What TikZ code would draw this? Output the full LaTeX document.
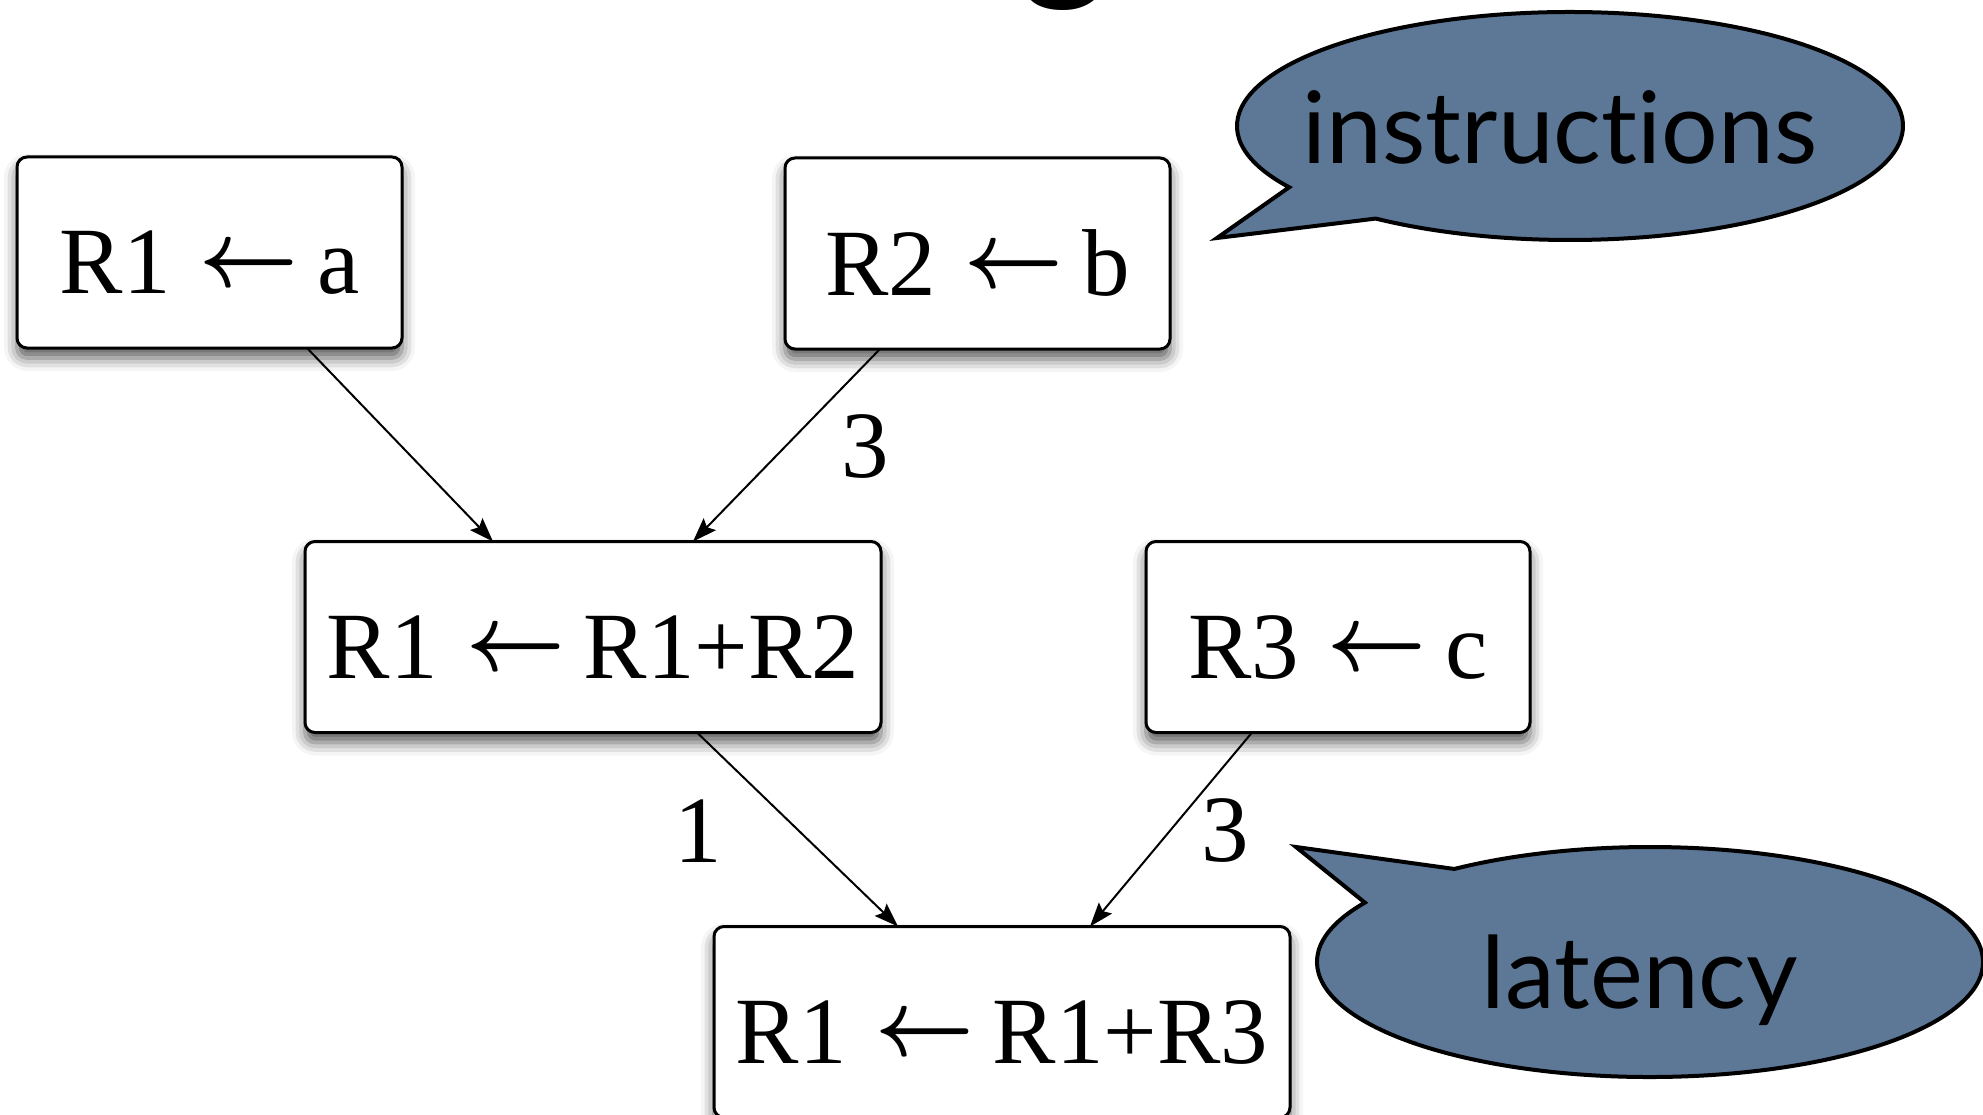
\documentclass[tikz,border=0pt]{standalone}
\usepackage{graphicx}
\usepackage{fontspec}
\setmainfont{Liberation Serif}
\newfontfamily\balloonfont{Lato}[Ligatures={NoCommon,NoRare}]
\usetikzlibrary{arrows.meta,calc,shadows.blur}

\definecolor{balloonblue}{RGB}{93,120,150}

% assignment arrow used in the instruction boxes
\newcommand{\assignarrow}{\hspace{0.05em}\raisebox{8pt}{\scalebox{8.6}[9.5]{\fontsize{10}{12}\selectfont\boldmath$\leftarrow$}}\hspace{0.2em}}

\tikzset{
  instr/.style={draw=black, line width=3pt, rounded corners=10pt, fill=white,
    inner sep=0pt, outer sep=0pt, minimum height=191pt,
    text height=83pt, text depth=0pt, font=\fontsize{95}{100}\selectfont,
    blur shadow={shadow xshift=0pt, shadow yshift=-10pt,
      shadow blur radius=13pt, shadow opacity=65}},
  dep/.style={line width=2pt, -{Stealth[length=24pt,width=17pt,inset=4pt]}},
  lat/.style={font=\fontsize{95}{100}\selectfont, inner sep=0pt},
  balloon/.style={draw=black, line width=4pt, fill=balloonblue, line join=miter},
  balloontext/.style={font=\balloonfont\fontsize{100}{110}\selectfont,
    inner sep=0pt, anchor=base}
}

\begin{document}
\begin{tikzpicture}[x=1pt, y=-1pt]
\useasboundingbox (0,0) rectangle (1983,1115);

% tail of the heading, mostly above the page
\node[font=\balloonfont\fontsize{170}{170}\selectfont, inner sep=0pt, anchor=base]
  (heading) at (1065,-20) {g};

% instructions
\node[instr, minimum width=385pt] (a)  at (209.5,252.5) {R1 \assignarrow a};
\node[instr, minimum width=385pt] (b)  at (977.5,253.5) {R2 \assignarrow b};
\node[instr, minimum width=576pt] (c)  at (593,637)     {R1 \assignarrow R1+R2};
\node[instr, minimum width=384pt] (d)  at (1338,637)    {R3 \assignarrow c};
\node[instr, minimum width=576pt] (e)  at (1002,1022)   {R1 \assignarrow R1+R3};

% dependences
\draw[dep] ([xshift=97.5pt]a.south) -- ([xshift=-100pt]c.north);
\draw[dep] ([xshift=-97.5pt]b.south) -- ([xshift=100pt]c.north);
\draw[dep] ([xshift=104pt]c.south) -- ([xshift=-104pt]e.north);
\draw[dep] ([xshift=-86pt]d.south) -- ([xshift=88pt]e.north);

% latencies
\node[lat] (lbc) at (865,447) {3};
\node[lat] (lce) at (698,831) {1};
\node[lat] (lde) at (1225,831) {3};

% speech balloons
\coordinate (ic) at (1570,126);
\coordinate (itip) at (1217,238);
\draw[balloon] (itip) -- ($(ic)+(147.5:333 and 114)$)
  arc[start angle=147.5, end angle=485.7, x radius=333, y radius=114] -- cycle;
\node[balloontext] (itext) at (1560,164) {instructions};

\coordinate (lc) at (1650,962);
\coordinate (ltip) at (1296,847);
\draw[balloon] (ltip) -- ($(lc)+(211.1:333 and 115)$)
  arc[start angle=211.1, end angle=-126, x radius=333, y radius=115] -- cycle;
\node[balloontext] (ltext) at (1640,1008) {latency};
\end{tikzpicture}
\end{document}
